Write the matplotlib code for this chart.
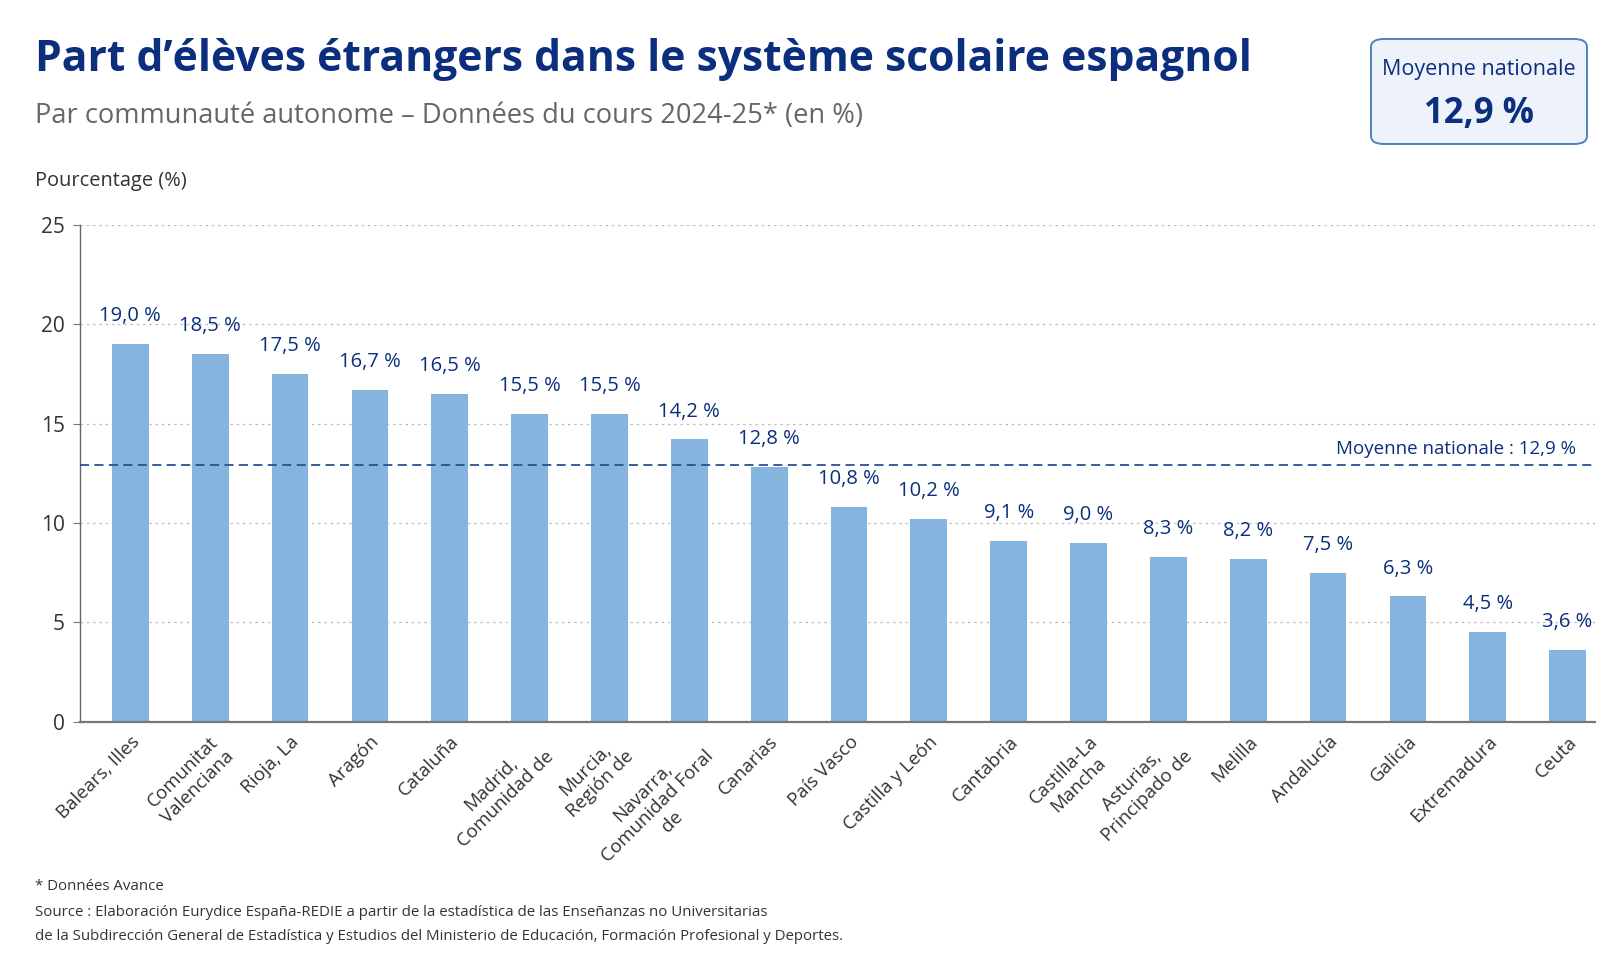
import matplotlib
matplotlib.use("Agg")
import matplotlib.pyplot as plt
from matplotlib import font_manager
from matplotlib.patches import FancyBboxPatch

# data
regions = [
    "Balears, Illes", "Comunitat\nValenciana", "Rioja, La", "Aragón", "Cataluña",
    "Madrid,\nComunidad de", "Murcia,\nRegión de", "Navarra,\nComunidad Foral\nde",
    "Canarias", "País Vasco", "Castilla y León", "Cantabria", "Castilla-La\nMancha",
    "Asturias,\nPrincipado de", "Melilla", "Andalucía", "Galicia", "Extremadura", "Ceuta",
]
shares = [19.0, 18.5, 17.5, 16.7, 16.5, 15.5, 15.5, 14.2, 12.8, 10.8,
          10.2, 9.1, 9.0, 8.3, 8.2, 7.5, 6.3, 4.5, 3.6]
national_mean = 12.9
y_ticks = [0, 5, 10, 15, 20, 25]

installed = {f.name for f in font_manager.fontManager.ttflist}
base_font = "Open Sans" if "Open Sans" in installed else "DejaVu Sans"
plt.rcParams['font.family'] = [base_font, 'DejaVu Sans']

NAVY = "#0b2f7e"
BAR = "#85b4de"
GREY_TXT = "#333333"

fig = plt.figure(figsize=(16.24, 9.69), dpi=100)
ax = fig.add_axes([0.0493, 0.2554, 0.9327, 0.5124])

x = list(range(len(regions)))
ax.bar(x, shares, width=0.46, color=BAR, zorder=2)

for xi, v in zip(x, shares):
    ax.text(xi, v + 0.9, f"{v:.1f} %".replace(".", ","), ha="center", va="bottom",
            fontsize=14.5, fontweight="medium", color=NAVY, zorder=3)

ax.axhline(national_mean, color="#2b4f95", lw=1.3, ls=(0, (5, 3)), zorder=3)
ax.text(18.1, national_mean + 0.35, "Moyenne nationale : 12,9 %", ha="right", va="bottom",
        fontsize=13.5, color=NAVY)

ax.set_ylim(0, 25)
ax.set_xlim(-0.63, 18.34)
ax.set_yticks(y_ticks)
ax.set_yticklabels([str(t) for t in y_ticks], fontsize=15, color=GREY_TXT)
ax.yaxis.grid(True, color="#bdbdbd", ls=(0, (2, 3)), lw=0.9, zorder=0)
ax.set_axisbelow(True)
ax.tick_params(axis="y", length=5, color="#777777", pad=6)
ax.tick_params(axis="x", length=0, pad=8)

ax.set_xticks(x)
ax.set_xticklabels(regions, rotation=45, ha="right", rotation_mode="anchor",
                   fontsize=13.5, color=GREY_TXT, multialignment="center")

for s in ["top", "right"]:
    ax.spines[s].set_visible(False)
ax.spines["left"].set_color("#666666")
ax.spines["left"].set_linewidth(1.0)
ax.spines["bottom"].set_color("#777777")
ax.spines["bottom"].set_linewidth(1.6)

# titles
fig.text(0.0215, 0.939, "Part d’élèves étrangers dans le système scolaire espagnol",
         fontsize=30.7, fontweight="bold", color=NAVY, ha="left", va="center")
fig.text(0.0215, 0.880, "Par communauté autonome – Données du cours 2024-25* (en %)",
         fontsize=19.6, color="#666666", ha="left", va="center")
fig.text(0.0215, 0.813, "Pourcentage (%)", fontsize=14.4, color=GREY_TXT,
         ha="left", va="center")

# highlight box
box = FancyBboxPatch((1371 / 1624, 1 - 144 / 969), 216 / 1624, 105 / 969,
                     boxstyle="round,pad=0,rounding_size=0.008",
                     transform=fig.transFigure, facecolor="#eef3fb",
                     edgecolor="#4f82c2", lw=1.4)
fig.patches.append(box)
fig.text(1479 / 1624, 1 - 69 / 969, "Moyenne nationale", fontsize=15.5, color=NAVY,
         ha="center", va="center")
fig.text(1479 / 1624, 1 - 114 / 969, "12,9 %", fontsize=25, fontweight="bold",
         color=NAVY, ha="center", va="center")

# notes
fig.text(0.0215, 1 - 887 / 969, "* Données Avance", fontsize=10.8, color=GREY_TXT,
         ha="left", va="center")
fig.text(0.0215, 1 - 913 / 969,
         "Source : Elaboración Eurydice España-REDIE a partir de la estadística de las Enseñanzas no Universitarias",
         fontsize=10.8, color=GREY_TXT, ha="left", va="center")
fig.text(0.0215, 1 - 936 / 969,
         "de la Subdirección General de Estadística y Estudios del Ministerio de Educación, Formación Profesional y Deportes.",
         fontsize=10.8, color=GREY_TXT, ha="left", va="center")

fig.savefig("out.png", dpi=100, facecolor="white")
